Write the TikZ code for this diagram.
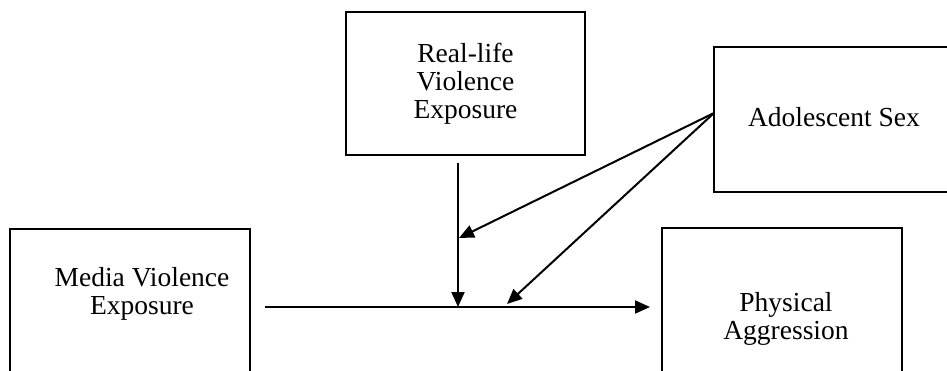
\documentclass[tikz,border=0pt]{standalone}
\usepackage{fontspec}
\setmainfont{Liberation Serif}
\usetikzlibrary{arrows.meta}

\begin{document}
\begin{tikzpicture}[x=1pt, y=-1pt,
    box/.style={draw=black, line width=2.4pt, anchor=north west, inner sep=0pt, outer sep=0pt},
    lbl/.style={align=center, font=\fontsize{27.5}{28}\selectfont, inner sep=0pt},
    arr/.style={line width=2pt, -{Triangle[length=15pt,width=13pt]}}]
      \useasboundingbox (0,0) rectangle (947,370);
      \clip (0,0) rectangle (947,370);

      \node[box, minimum width=239pt, minimum height=143pt] (rlv) at (346,12) {};
      \node[lbl] (rlvtext) at (465.5,83.5) {Real-life\\Violence\\Exposure};

      \node[box, minimum width=240pt, minimum height=145pt] (sex) at (714,47) {};
      \node[lbl] (sextext) at (834,117.5) {Adolescent Sex};

      \node[box, minimum width=240pt, minimum height=200pt] (mve) at (10,229) {};
      \node[lbl] (mvetext) at (142,294) {Media Violence\\Exposure};

      \node[box, minimum width=240pt, minimum height=200pt] (pa) at (662,228) {};
      \node[lbl] (patext) at (786,318.5) {Physical\\Aggression};

      \coordinate (h) at (0,307);
      \coordinate (m1) at (458,307);
      \coordinate (m2) at (459,238);
      \coordinate (m3) at (507,304);

      \draw[arr] ([xshift=15pt]mve.east |- h) -- ([xshift=-12pt]pa.west |- h);
      \draw[arr] ([yshift=-8pt]rlv.south -| m1) -- (m1);
      \draw[arr] ([yshift=6.5pt]sex.west) -- (m2);
      \draw[arr] ([yshift=6.5pt]sex.west) -- (m3);
    \end{tikzpicture}
\end{document}
